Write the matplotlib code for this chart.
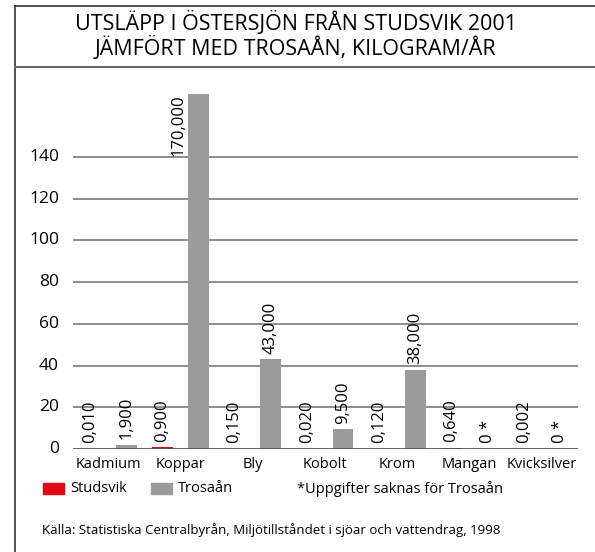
import matplotlib.pyplot as plt
from matplotlib.lines import Line2D
from matplotlib.patches import Rectangle
from matplotlib.transforms import ScaledTranslation

# data (kilogram/år, y-axis shows the same numbers)
metaller = ['Kadmium', 'Koppar', 'Bly', 'Kobolt', 'Krom', 'Mangan', 'Kvicksilver']
studsvik = [0.010, 0.900, 0.150, 0.020, 0.120, 0.640, 0.002]
trosaan = [1.900, 170.000, 43.000, 9.500, 38.000, None, None]  # None = uppgift saknas
yticks = [0, 20, 40, 60, 80, 100, 120, 140]

RED = '#e30613'
GREY = '#9b9b9b'
plt.rcParams['font.family'] = ['Open Sans', 'DejaVu Sans']


def fmt(v):
    if v is None:
        return '0 *'
    return f'{v:.3f}'.replace('.', ',')


fig = plt.figure(figsize=(5.95, 5.52), dpi=100)
W, H = 595, 552

ax = fig.add_axes([73 / W, (H - 449) / H, 505 / W, 0.68])
ax.set_xlim(-0.484, 6.5)
ax.set_ylim(0, 180)

w = 0.29
off = 0.25
xs = list(range(len(metaller)))
tv = [0 if v is None else v for v in trosaan]
ax.bar([x - off for x in xs], studsvik, width=w, color=RED, zorder=3)
ax.bar([x + off for x in xs], tv, width=w, color=GREY, zorder=3)

for y in yticks[1:]:
    ax.axhline(y, color='#7a7a7a', lw=1.2, zorder=1)
ax.axhline(0, color='#555555', lw=2, zorder=4)

for x, s, t in zip(xs, studsvik, trosaan):
    ax.annotate(fmt(s), (x - off, s), xytext=(0, 4), textcoords='offset points',
                rotation=90, ha='center', va='bottom', fontsize=12, zorder=5)
    tval = 0 if t is None else t
    if tval > 150:
        # too tall: put the label beside the bar
        ax.annotate(fmt(t), (x + off - w / 2, tval), xytext=(-1, 0),
                    textcoords='offset points', rotation=90, ha='right',
                    va='top', fontsize=12, zorder=5)
    else:
        ax.annotate(fmt(t), (x + off, tval), xytext=(0, 4),
                    textcoords='offset points', rotation=90, ha='center',
                    va='bottom', fontsize=12, zorder=5)

ax.set_yticks(yticks)
ax.set_yticklabels([str(v) for v in yticks], fontsize=12.5)
shift = ScaledTranslation(0, -2 / 72, fig.dpi_scale_trans)
for lab in ax.get_yticklabels():
    lab.set_verticalalignment('center')
    lab.set_transform(lab.get_transform() + shift)
ax.set_xticks(xs)
ax.set_xticklabels(metaller, fontsize=10.5)
ax.tick_params(length=0)
ax.tick_params(axis='y', pad=10)
ax.tick_params(axis='x', pad=6)
for sp in ax.spines.values():
    sp.set_visible(False)

# frame and title
fig.add_artist(Line2D([15 / W, 15 / W], [0, 1 - 6 / H], color='#333333', lw=1.2))
fig.add_artist(Line2D([15 / W, 1], [1 - 6 / H, 1 - 6 / H], color='#333333', lw=1.2))
fig.add_artist(Line2D([15 / W, 1], [1 - 67 / H, 1 - 67 / H], color='#666666', lw=1.5))
fig.text(296 / W, 1 - 23 / H, 'UTSLÄPP I ÖSTERSJÖN FRÅN STUDSVIK 2001',
         ha='center', va='center', fontsize=15.5)
fig.text(296 / W, 1 - 48 / H, 'JÄMFÖRT MED TROSAÅN, KILOGRAM/ÅR',
         ha='center', va='center', fontsize=15.5)

# legend
fig.add_artist(Rectangle((43 / W, 1 - 494 / H), 21 / W, 11 / H, color=RED,
                         transform=fig.transFigure))
fig.text(70 / W, 1 - 489 / H, 'Studsvik', va='center', fontsize=10.5)
fig.add_artist(Rectangle((151 / W, 1 - 494 / H), 21 / W, 11 / H, color=GREY,
                         transform=fig.transFigure))
fig.text(178 / W, 1 - 489 / H, 'Trosaån', va='center', fontsize=10.5)
fig.text(297 / W, 1 - 489 / H, '*Uppgifter saknas för Trosaån', va='center',
         fontsize=10.5)
fig.text(42 / W, 1 - 530 / H,
         'Källa: Statistiska Centralbyrån, Miljötillståndet i sjöar och vattendrag, 1998',
         va='center', fontsize=9.5)

fig.savefig('out.png', dpi=100)
